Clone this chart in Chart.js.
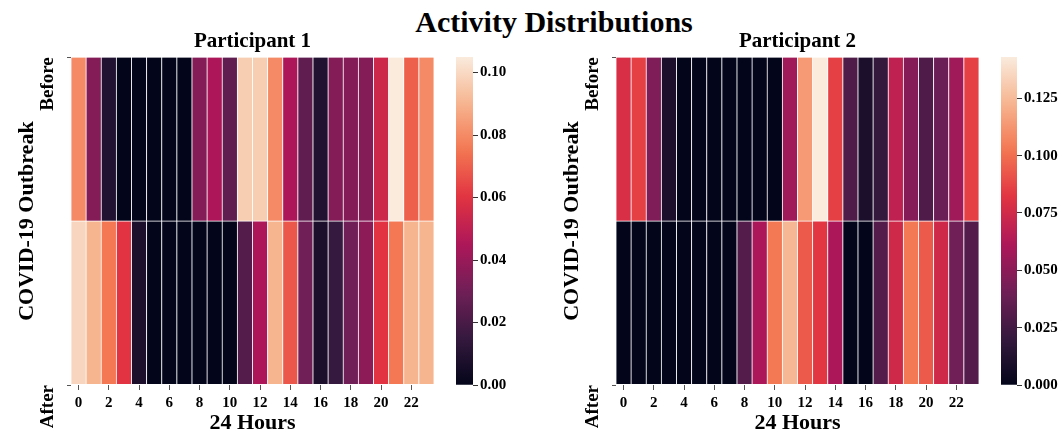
<!DOCTYPE html>
<html><head><meta charset="utf-8">
<script src="https://cdn.jsdelivr.net/npm/chart.js@4.4.1/dist/chart.umd.min.js"></script>
<style>
html,body{margin:0;padding:0;background:#fff;}
#wrap{position:relative;width:1062px;height:432px;overflow:hidden;background:#fff;}
canvas{position:absolute;top:0;}
#title{position:absolute;left:554px;top:7px;transform:translateX(-50%);white-space:nowrap;font:bold 30px/1 "Liberation Serif",serif;color:#000;}
</style></head><body>
<div id="wrap">
<div id="title">Activity Distributions</div>
<canvas id="h1" width="445" height="432" style="left:0px"></canvas>
<canvas id="c1" width="80" height="432" style="left:440px"></canvas>
<canvas id="h2" width="445" height="432" style="left:545px"></canvas>
<canvas id="c2" width="77" height="432" style="left:985px"></canvas>
</div>
<script>
// ---- data ----
const hours = ['0','1','2','3','4','5','6','7','8','9','10','11','12','13','14','15','16','17','18','19','20','21','22','23'];
const rowLabels = ['Before', 'After'];
const p1Before = [0.080,0.035,0.0094,0,0,0,0,0,0.035,0.045,0.026,0.097,0.097,0.080,0.045,0.026,0.0094,0.035,0.035,0.035,0.054,0.105,0.070,0.080];
const p1After  = [0.099,0.090,0.0755,0.060,0.0075,0,0,0,0,0,0,0.023,0.045,0.090,0.068,0.030,0.0075,0.015,0.030,0.037,0.060,0.0755,0.090,0.090];
const p2Before = [0.078,0.086,0.046,0.010,0,0,0,0,0,0,0,0.057,0.114,0.143,0.086,0.0295,0.010,0.020,0.0685,0.048,0.0295,0.039,0.057,0.086];
const p2After  = [0,0,0,0,0,0,0,0,0.031,0.061,0.103,0.124,0.0935,0.083,0.061,0,0,0.031,0.0747,0.103,0.0935,0.0747,0.041,0.031];
const p1Ticks = [0, 0.02, 0.04, 0.06, 0.08, 0.10];
const p2Ticks = [0, 0.025, 0.05, 0.075, 0.10, 0.125];

// ---- style ----
const rocket = [[0,[3,5,26]],[1/7,[53,25,62]],[2/7,[112,31,87]],[3/7,[173,23,89]],[4/7,[225,51,66]],[5/7,[243,118,81]],[6/7,[246,180,143]],[1,[250,235,221]]];
function rocketColor(t){
  t = Math.max(0, Math.min(1, t));
  for (let i = 1; i < rocket.length; i++) {
    if (t <= rocket[i][0]) {
      const [t0,c0] = rocket[i-1], [t1,c1] = rocket[i];
      const f = (t - t0) / (t1 - t0);
      const c = c0.map((v,k) => Math.round(v + (c1[k]-v)*f));
      return `rgb(${c[0]},${c[1]},${c[2]})`;
    }
  }
  return 'rgb(250,235,221)';
}
const FONT = '"Liberation Serif", serif';
const BLACK = '#000';

function heatChart(id, title, before, after) {
  const vmax = Math.max(...before, ...after);
  const vmin = Math.min(...before, ...after);
  const col = v => rocketColor((v - vmin) / (vmax - vmin));
  const cell = {borderColor: '#ffffff', borderWidth: 0.75, borderSkipped: false, barPercentage: 1, categoryPercentage: 1};
  new Chart(document.getElementById(id), {
    type: 'bar',
    data: {
      labels: hours,
      datasets: [
        Object.assign({label: rowLabels[1], data: after.map(() => 1), backgroundColor: after.map(col)}, cell),
        Object.assign({label: rowLabels[0], data: before.map(() => 1), backgroundColor: before.map(col)}, cell)
      ]
    },
    options: {
      responsive: false, animation: false, events: [],
      layout: {padding: {right: 11}},
      plugins: {
        legend: {display: false}, tooltip: {enabled: false},
        title: {display: true, text: title, fullSize: false, color: BLACK,
          font: {family: FONT, size: 21, weight: 'bold'}, padding: {top: 29, bottom: 3}}
      },
      scales: {
        x: {
          stacked: true,
          afterFit: s => { s.height = 47; },
          ticks: {autoSkip: true, maxTicksLimit: 12, maxRotation: 0, minRotation: 0, padding: 4, color: BLACK,
            font: {family: FONT, size: 15, weight: 'bold'}},
          grid: {offset: false, drawOnChartArea: false, drawTicks: true, tickLength: 5, color: '#555'},
          border: {display: false},
          title: {display: true, text: '24 Hours', color: BLACK, font: {family: FONT, size: 22, weight: 'bold'}, padding: {top: 0, bottom: -5}}
        },
        y: {
          stacked: true, min: 0, max: 2,
          afterFit: s => { s.width = 71; },
          afterBuildTicks: s => { s.ticks = [{value: 0}, {value: 2}]; },
          ticks: {minRotation: 90, maxRotation: 90, padding: 19, color: BLACK,
            font: {family: FONT, size: 19, weight: 'bold'},
            callback: v => (v === 2 ? rowLabels[0] : rowLabels[1])},
          grid: {drawOnChartArea: false, drawTicks: true, tickLength: 4, color: '#555'},
          border: {display: false},
          title: {display: true, text: 'COVID-19 Outbreak', color: BLACK, font: {family: FONT, size: 22, weight: 'bold'}, padding: {top: 14, bottom: 0}}
        }
      }
    }
  });
  return {vmin, vmax};
}

function colorbar(id, range, ticks, digits, axisWidth) {
  new Chart(document.getElementById(id), {
    type: 'bar',
    data: {
      labels: [''],
      datasets: [{
        data: [range.vmax], base: range.vmin, barPercentage: 1, categoryPercentage: 1, borderWidth: 0,
        backgroundColor: (ctx) => {
          const a = ctx.chart.chartArea;
          if (!a) return '#000';
          const g = ctx.chart.ctx.createLinearGradient(0, a.bottom, 0, a.top);
          for (let i = 0; i <= 40; i++) g.addColorStop(i / 40, rocketColor(i / 40));
          return g;
        }
      }]
    },
    options: {
      responsive: false, animation: false, events: [],
      layout: {padding: {left: 16, top: 57, bottom: 47}},
      plugins: {legend: {display: false}, tooltip: {enabled: false}},
      scales: {
        x: {display: false},
        y: {
          position: 'right', min: range.vmin, max: range.vmax,
          afterFit: s => { s.width = axisWidth; },
          afterBuildTicks: s => { s.ticks = ticks.map(v => ({value: v})); },
          ticks: {padding: 2, color: BLACK, font: {family: FONT, size: 15, weight: 'bold'},
            callback: v => Number(v).toFixed(digits)},
          grid: {drawOnChartArea: false, drawTicks: true, tickLength: 5, color: '#333'},
          border: {display: false}
        }
      }
    }
  });
}

const r1 = heatChart('h1', 'Participant 1', p1Before, p1After);
const r2 = heatChart('h2', 'Participant 2', p2Before, p2After);
colorbar('c1', r1, p1Ticks, 2, 47);
colorbar('c2', r2, p2Ticks, 3, 45);
</script>
</body></html>
